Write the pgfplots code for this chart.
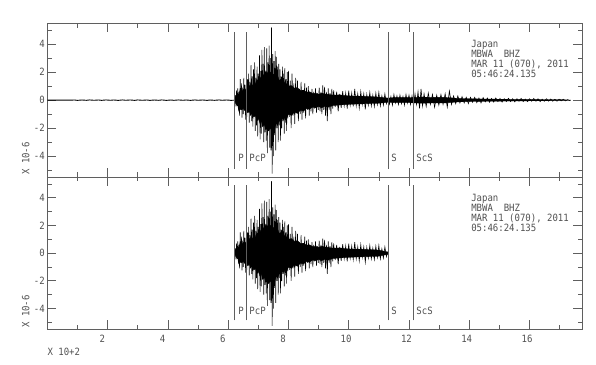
\documentclass[border=0pt]{standalone}
\usepackage{pgfplots}
\pgfplotsset{compat=1.18}
\usepackage{pgfplotstable}
\usepackage{fontspec}
\setmainfont[FakeStretch=0.9]{DejaVu Sans Mono}
\definecolor{txt}{RGB}{80,80,80}
\definecolor{frm}{RGB}{95,95,95}

\pgfplotstableread{
x y
0 0
0.8 0
0.90 0.012
1.00 -0.015
1.15 0.01
1.30 -0.012
1.40 0.015
1.55 -0.01
1.70 0.012
1.80 -0.015
1.95 0.015
2.10 -0.01
2.20 0.012
2.35 -0.015
2.50 0.015
2.60 -0.01
2.75 0.012
2.90 -0.015
3.00 0.015
3.15 -0.01
3.30 0.012
3.40 -0.015
3.55 0.01
3.70 -0.012
3.80 0.015
3.95 -0.015
4.10 0.01
4.20 -0.012
4.35 0.015
4.50 -0.01
4.60 0.012
4.75 -0.015
4.90 0.015
5.00 -0.01
5.15 0.012
5.30 -0.015
5.40 0.01
5.55 -0.012
5.70 0.015
5.80 -0.01
5.95 0.012
6.10 -0.015
6.22 0
}\noise

\pgfplotstableread{
x y
6.22 0
6.25 0.3
6.30 0.5
6.35 0.4
6.40 0.75
6.45 0.6
6.50 0.8
6.55 0.65
6.60 0.85
6.65 0.9
6.70 0.8
6.75 1.2
6.80 1.0
6.85 1.3
6.90 1.15
6.95 1.5
7.00 1.35
7.05 1.7
7.10 1.5
7.15 1.9
7.20 1.7
7.25 2.1
7.30 1.9
7.35 2.2
7.40 1.95
7.45 2.1
7.50 1.8
7.55 1.9
7.60 1.6
7.65 1.7
7.70 1.4
7.75 1.5
7.80 1.25
7.85 1.35
7.90 1.1
7.95 1.2
8.00 1.0
8.10 1.05
8.20 0.85
8.30 0.9
8.40 0.7
8.50 0.72
8.60 0.58
8.70 0.6
8.80 0.48
8.90 0.5
9.00 0.42
9.10 0.5
9.20 0.45
9.30 0.42
9.50 0.36
9.70 0.38
10.0 0.3
10.5 0.28
11.0 0.22
11.30 0.15
11.5 0.18
12.0 0.18
12.4 0.22
12.8 0.2
13.2 0.2
13.6 0.13
14.0 0.1
14.5 0.08
15.0 0.07
16.0 0.05
17.0 0.04
17.36 0
17.0 -0.04
16.0 -0.05
15.0 -0.07
14.5 -0.08
14.0 -0.1
13.6 -0.13
13.2 -0.2
12.8 -0.2
12.4 -0.22
12.0 -0.18
11.5 -0.18
11.30 -0.15
11.0 -0.22
10.5 -0.26
10.0 -0.3
9.70 -0.35
9.50 -0.38
9.30 -0.5
9.20 -0.45
9.10 -0.55
9.00 -0.45
8.90 -0.55
8.80 -0.5
8.70 -0.65
8.60 -0.6
8.50 -0.78
8.40 -0.72
8.30 -0.95
8.20 -0.85
8.10 -1.1
8.00 -1.0
7.95 -1.25
7.90 -1.15
7.85 -1.4
7.80 -1.3
7.75 -1.6
7.70 -1.45
7.65 -1.8
7.60 -1.65
7.55 -2.05
7.50 -1.9
7.45 -2.2
7.40 -2.0
7.35 -2.2
7.30 -1.9
7.25 -2.1
7.20 -1.75
7.15 -1.9
7.10 -1.5
7.05 -1.65
7.00 -1.3
6.95 -1.4
6.90 -1.1
6.85 -1.2
6.80 -0.95
6.75 -1.05
6.70 -0.8
6.65 -0.9
6.60 -0.7
6.55 -0.75
6.50 -0.6
6.45 -0.7
6.40 -0.55
6.35 -0.45
6.30 -0.4
6.25 -0.25
6.22 0
}\core

\pgfplotstableread{
x y
6.22 0
6.25 0.3
6.30 0.5
6.35 0.4
6.40 0.75
6.45 0.6
6.50 0.8
6.55 0.65
6.60 0.85
6.65 0.9
6.70 0.8
6.75 1.2
6.80 1.0
6.85 1.3
6.90 1.15
6.95 1.5
7.00 1.35
7.05 1.7
7.10 1.5
7.15 1.9
7.20 1.7
7.25 2.1
7.30 1.9
7.35 2.2
7.40 1.95
7.45 2.1
7.50 1.8
7.55 1.9
7.60 1.6
7.65 1.7
7.70 1.4
7.75 1.5
7.80 1.25
7.85 1.35
7.90 1.1
7.95 1.2
8.00 1.0
8.10 1.05
8.20 0.85
8.30 0.9
8.40 0.7
8.50 0.72
8.60 0.58
8.70 0.6
8.80 0.48
8.90 0.5
9.00 0.42
9.10 0.5
9.20 0.45
9.30 0.42
9.50 0.36
9.70 0.38
10.0 0.3
10.5 0.28
11.0 0.22
11.30 0.08
11.30 -0.08
11.0 -0.22
10.5 -0.26
10.0 -0.3
9.70 -0.35
9.50 -0.38
9.30 -0.5
9.20 -0.45
9.10 -0.55
9.00 -0.45
8.90 -0.55
8.80 -0.5
8.70 -0.65
8.60 -0.6
8.50 -0.78
8.40 -0.72
8.30 -0.95
8.20 -0.85
8.10 -1.1
8.00 -1.0
7.95 -1.25
7.90 -1.15
7.85 -1.4
7.80 -1.3
7.75 -1.6
7.70 -1.45
7.65 -1.8
7.60 -1.65
7.55 -2.05
7.50 -1.9
7.45 -2.2
7.40 -2.0
7.35 -2.2
7.30 -1.9
7.25 -2.1
7.20 -1.75
7.15 -1.9
7.10 -1.5
7.05 -1.65
7.00 -1.3
6.95 -1.4
6.90 -1.1
6.85 -1.2
6.80 -0.95
6.75 -1.05
6.70 -0.8
6.65 -0.9
6.60 -0.7
6.55 -0.75
6.50 -0.6
6.45 -0.7
6.40 -0.55
6.35 -0.45
6.30 -0.4
6.25 -0.25
6.22 0
}\corebot

\pgfplotstableread{
x y
6.22 0
6.24 0.35
6.26 -0.45
6.28 0.7
6.30 -0.3
6.32 0.85
6.34 -0.8
6.36 0.6
6.38 -1.1
6.40 1.5
6.42 -0.7
6.44 1.2
6.46 -1.25
6.48 0.9
6.50 -1.0
6.52 1.6
6.54 -0.6
6.56 1.1
6.58 -1.4
6.60 0.8
6.62 -1.2
6.64 1.5
6.66 -0.9
6.68 1.9
6.70 -1.6
6.72 1.3
6.74 -1.1
6.76 2.5
6.78 -1.5
6.80 1.7
6.82 -1.9
6.84 2.2
6.86 -1.2
6.88 2.7
6.90 -2.2
6.92 1.6
6.94 -1.8
6.96 2.4
6.98 -2.6
7.00 1.9
7.02 -1.4
7.04 3.2
7.06 -2.8
7.08 2.1
7.10 -2.4
7.12 3.6
7.14 -1.9
7.16 2.6
7.18 -3.0
7.20 3.8
7.22 -2.3
7.24 2.0
7.26 -2.9
7.28 3.7
7.30 -3.8
7.32 2.7
7.34 -2.2
7.36 3.9
7.38 -3.4
7.40 3.0
7.42 -3.6
7.44 5.2
7.46 -5.25
7.48 3.3
7.50 -4.0
7.52 2.8
7.54 -2.5
7.56 3.5
7.58 -3.6
7.60 3.1
7.62 -2.0
7.64 2.4
7.66 -3.0
7.68 2.6
7.70 -1.8
7.72 2.2
7.74 -2.9
7.76 1.7
7.78 -2.0
7.80 2.4
7.82 -1.5
7.84 1.9
7.86 -2.4
7.88 2.3
7.90 -1.6
7.92 1.5
7.94 -2.2
7.96 2.0
7.98 -1.3
8.00 2.1
8.03 -1.2
8.06 1.4
8.09 -2.0
8.12 1.9
8.15 -1.1
8.18 1.2
8.21 -1.7
8.24 1.6
8.27 -0.9
8.30 1.4
8.33 -1.5
8.36 0.8
8.39 -1.0
8.42 1.3
8.45 -1.4
8.48 0.7
8.51 -0.9
8.54 1.2
8.57 -1.3
8.60 0.9
8.63 -0.7
8.66 1.0
8.69 -1.1
8.72 0.6
8.75 -0.8
8.78 0.8
8.81 -1.0
8.84 0.6
8.87 -0.6
8.90 0.85
8.93 -0.9
8.96 0.5
8.99 -0.7
9.02 0.9
9.05 -0.8
9.08 0.6
9.11 -1.0
9.14 1.05
9.17 -0.7
9.20 0.95
9.23 -1.1
9.26 0.6
9.29 -1.5
9.32 0.85
9.35 -0.7
9.38 0.5
9.41 -1.0
9.44 0.8
9.47 -0.6
9.50 0.7
9.55 -0.5
9.60 0.6
9.65 -0.8
9.70 0.45
9.75 -0.55
9.80 0.65
9.85 -0.4
9.90 0.5
9.95 -0.6
10.00 0.68
10.05 -0.35
10.10 0.5
10.15 -0.45
10.20 0.8
10.25 -0.4
10.30 0.45
10.35 -0.55
10.40 0.6
10.45 -0.3
10.50 0.45
10.55 -0.65
10.60 0.4
10.65 -0.35
10.70 0.55
10.75 -0.4
10.80 0.35
10.85 -0.45
10.90 0.5
10.95 -0.3
11.00 0.55
11.05 -0.4
11.10 0.3
11.15 -0.35
11.20 0.45
11.25 -0.25
11.30 0.1
11.35 -0.3
11.40 0.25
11.45 -0.35
11.50 0.4
11.55 -0.2
11.60 0.3
11.65 -0.3
11.70 0.35
11.75 -0.25
11.80 0.25
11.85 -0.35
11.90 0.4
11.95 -0.2
12.00 0.35
12.05 -0.3
12.10 0.3
12.15 -0.4
12.20 0.45
12.25 -0.3
12.30 0.6
12.35 -0.58
12.40 0.8
12.45 -0.4
12.50 0.45
12.57 -0.45
12.64 0.5
12.71 -0.3
12.78 0.4
12.85 -0.5
12.92 0.35
12.99 -0.35
13.06 0.4
13.13 -0.3
13.20 0.45
13.27 -0.5
13.34 0.65
13.41 -0.3
13.48 0.3
13.55 -0.25
13.62 0.3
13.69 -0.2
13.76 0.25
13.83 -0.2
13.90 0.2
13.97 -0.25
14.04 0.2
14.11 -0.15
14.18 0.2
14.25 -0.18
14.32 0.15
14.39 -0.2
14.46 0.18
14.53 -0.12
14.60 0.15
14.67 -0.15
14.74 0.12
14.81 -0.14
14.88 0.15
14.95 -0.1
15.02 0.12
15.09 -0.14
15.16 0.1
15.23 -0.1
15.30 0.13
15.37 -0.1
15.44 0.1
15.51 -0.12
15.58 0.1
15.65 -0.08
15.72 0.12
15.79 -0.1
15.86 0.08
15.93 -0.1
16.00 0.1
16.07 -0.08
16.14 0.12
16.21 -0.08
16.28 0.1
16.35 -0.1
16.42 0.07
16.49 -0.08
16.56 0.1
16.63 -0.07
16.70 0.08
16.77 -0.07
16.84 0.06
16.91 -0.08
16.98 0.07
17.05 -0.05
17.12 0.06
17.19 -0.05
17.26 0.04
17.33 -0.03
17.36 0
}\trace

\pgfplotsset{
  seis/.style={
    scale only axis, width=535pt,
    xmin=0, xmax=17.75, ymin=-5.5, ymax=5.5,
    xtick={2,4,...,16}, minor xtick={1,3,...,17},
    ytick={-4,-2,0,2,4}, minor ytick={-5,-3,-1,1,3,5},
    tick align=inside,
    major tick length=9pt, minor tick length=4.5pt,
    axis line style={frm, line width=0.7pt},
    tick style={frm, line width=0.7pt},
    tick label style={font=\fontsize{10}{11}\selectfont, text=txt},
    /pgf/number format/assume math mode=true,
    yticklabel style={xshift=1pt},
    xticklabel style={anchor=north west, xshift=-11.5pt, yshift=-2pt},
    clip=false,
  },
  phase/.style={frm, line width=0.7pt},
}
\tikzset{
  phaselab/.style={anchor=west, inner sep=0pt, xshift=3.3pt, text=txt, font=\fontsize{10}{11}\selectfont},
  info/.style={anchor=north west, inner sep=0pt, align=left, text=txt, font=\fontsize{10}{10}\selectfont},
}

\begin{document}
\begin{tikzpicture}
\useasboundingbox (0,0) rectangle (596pt,364pt);
\begin{axis}[seis, name=top, at={(47.3pt,187pt)}, anchor=south west, height=153.7pt, xticklabels={}]
\addplot[black, line width=0.9pt] table {\noise};
\addplot[fill=black, draw=black, line width=0.3pt] table {\core};
\addplot[black, line width=0.6pt] table {\trace};
\addplot[phase] coordinates {(6.22,-4.9) (6.22,4.9)};
\addplot[phase] coordinates {(6.59,-4.9) (6.59,4.9)};
\addplot[phase] coordinates {(11.30,-4.9) (11.30,4.9)};
\addplot[phase] coordinates {(12.13,-4.9) (12.13,4.9)};
\node[phaselab] at (axis cs:6.22,-4.15) {P};
\node[phaselab] at (axis cs:6.59,-4.15) {PcP};
\node[phaselab] at (axis cs:11.30,-4.15) {S};
\node[phaselab] at (axis cs:12.13,-4.15) {ScS};
\node[info] at (axis cs:14.06,4.3) {Japan\\MBWA\ \ BHZ\\MAR 11 (070), 2011\\05:46:24.135};
\end{axis}
\begin{axis}[seis, name=bot, at={(47.3pt,34.7pt)}, anchor=south west, height=152.3pt]
\addplot[fill=black, draw=black, line width=0.3pt] table {\corebot};
\addplot[black, line width=0.6pt, restrict x to domain=6:11.31] table {\trace};
\addplot[phase] coordinates {(6.22,-4.85) (6.22,4.9)};
\addplot[phase] coordinates {(6.59,-4.85) (6.59,4.9)};
\addplot[phase] coordinates {(11.30,-4.85) (11.30,4.9)};
\addplot[phase] coordinates {(12.13,-4.85) (12.13,4.9)};
\node[phaselab] at (axis cs:6.22,-4.15) {P};
\node[phaselab] at (axis cs:6.59,-4.15) {PcP};
\node[phaselab] at (axis cs:11.30,-4.15) {S};
\node[phaselab] at (axis cs:12.13,-4.15) {ScS};
\node[info] at (axis cs:14.06,4.3) {Japan\\MBWA\ \ BHZ\\MAR 11 (070), 2011\\05:46:24.135};
\end{axis}
\node[rotate=90, anchor=base west, inner sep=0pt, text=txt, font=\fontsize{10}{11}\selectfont] at ([xshift=-18pt,yshift=2pt]top.south west) {X 10-6};
\node[rotate=90, anchor=base west, inner sep=0pt, text=txt, font=\fontsize{10}{11}\selectfont] at ([xshift=-18pt,yshift=1.3pt]bot.south west) {X 10-6};
\node[anchor=base west, inner sep=0pt, text=txt, font=\fontsize{10}{11}\selectfont] at ([yshift=-25.7pt]bot.south west) {X 10+2};
\end{tikzpicture}
\end{document}
